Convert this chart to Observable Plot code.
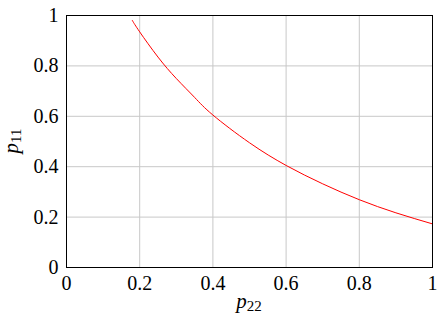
<!DOCTYPE html>
<html>
<head>
<meta charset="utf-8">
<script src="https://cdn.jsdelivr.net/npm/d3@7"></script>
<script src="https://cdn.jsdelivr.net/npm/@observablehq/plot@0.6"></script>
<style>
  html, body { margin: 0; padding: 0; background: white; }
</style>
</head>
<body>
<div id="chart"></div>
<script>
const p22 = [0.18, 0.2, 0.25, 0.3, 0.35, 0.4, 0.5, 0.6, 0.7, 0.8, 0.9, 1.0];
const p11 = [0.98, 0.935, 0.835, 0.75, 0.675, 0.605, 0.495, 0.405, 0.332, 0.269, 0.217, 0.173];
const xTicks = [0, 0.2, 0.4, 0.6, 0.8, 1];
const yTicks = [0, 0.2, 0.4, 0.6, 0.8, 1];

const data = p22.map((x, i) => ({x, y: p11[i]}));
const fmt = d => String(d);
const FONT = "Liberation Serif";

const chart = Plot.plot({
  width: 445,
  height: 320,
  marginLeft: 66,
  marginRight: 13,
  marginTop: 15,
  marginBottom: 53,
  style: {fontFamily: FONT, fontSize: "20px", background: "white", color: "black"},
  x: {domain: [0, 1]},
  y: {domain: [0, 1]},
  marks: [
    Plot.gridX(xTicks, {stroke: "#c8c8c8", strokeOpacity: 1, strokeWidth: 1}),
    Plot.gridY(yTicks, {stroke: "#c8c8c8", strokeOpacity: 1, strokeWidth: 1}),
    Plot.axisX({ticks: xTicks, tickFormat: fmt, tickSize: 0, tickPadding: 8, label: null, fill: "black", fontSize: 20, fontFamily: FONT}),
    Plot.axisY({ticks: yTicks, tickFormat: fmt, tickSize: 0, tickPadding: 8, label: null, fill: "black", fontSize: 20, fontFamily: FONT}),
    Plot.line(data, {x: "x", y: "y", stroke: "red", strokeWidth: 1, curve: "natural"}),
    Plot.frame({stroke: "black", strokeWidth: 1})
  ]
});

const svg = d3.select(chart);
const xl = svg.append("text")
  .attr("x", 249).attr("y", 308)
  .attr("text-anchor", "middle")
  .attr("font-family", FONT)
  .attr("font-size", 21)
  .attr("fill", "black");
xl.append("tspan").attr("font-style", "italic").text("p");
xl.append("tspan").attr("font-size", 15).attr("dy", 3).text("22");

const yl = svg.append("text")
  .attr("transform", "translate(18,141) rotate(-90)")
  .attr("text-anchor", "middle")
  .attr("font-family", FONT)
  .attr("font-size", 21)
  .attr("fill", "black");
yl.append("tspan").attr("font-style", "italic").text("p");
yl.append("tspan").attr("font-size", 15).attr("dy", 3).text("11");

document.getElementById("chart").appendChild(chart);
</script>
</body>
</html>
